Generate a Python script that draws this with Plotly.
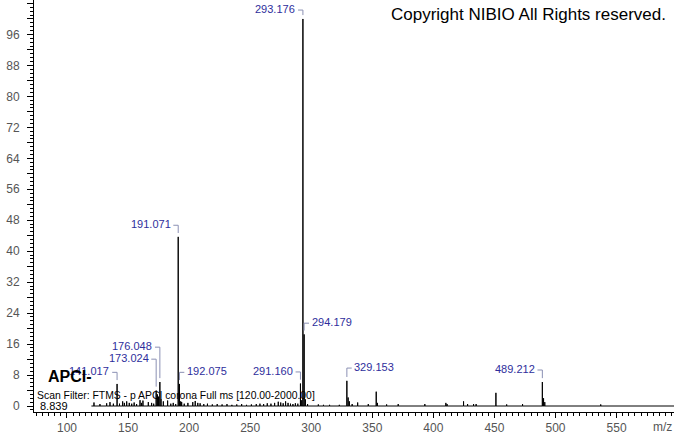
import plotly.graph_objects as go

# labelled peaks (m/z, relative intensity)
peak_mz = [141.017, 173.024, 176.048, 191.071, 192.075, 291.160, 293.176, 294.179, 329.153, 489.212]
peak_int = [5.7, 4.0, 6.2, 43.7, 5.7, 5.8, 100.0, 18.5, 6.5, 6.2]
peak_side = ["left", "left", "left", "left", "right", "left", "left", "right", "right", "left"]
# level (intensity units) where each label sits
label_level = [8.7, 12.1, 15.2, 46.7, 8.7, 8.8, 102.3, 21.4, 9.8, 9.3]

# small unlabelled peaks
minor_mz = [122.1, 127.0, 132.5, 135.2, 138.0, 143.0, 145.6, 147.0, 148.9, 151.0,
            153.0, 155.0, 157.0, 159.8, 161.0, 162.2, 166.6, 169.3, 171.0, 174.0,
            175.0, 177.0, 178.9, 182.4, 185.0, 187.0, 189.0, 193.1, 193.9, 196.0,
            199.0, 203.0, 205.0, 207.1, 209.0, 212.0, 215.0, 219.0, 223.0, 227.0,
            231.0, 235.0, 239.0, 243.0, 247.0, 251.0, 255.0, 258.0, 261.0, 264.0,
            267.0, 270.0, 273.0, 275.0, 277.0, 279.0, 281.0, 283.0, 285.0, 287.0,
            289.0, 292.2, 295.2, 297.0, 305.8, 310.0, 315.0, 323.0, 330.2, 331.2,
            333.5, 338.0, 346.7, 353.2, 354.2, 361.7, 371.2, 393.0, 410.2, 411.2,
            424.7, 428.0, 432.9, 435.0, 451.2, 460.0, 473.0, 490.2, 491.2, 537.0]
minor_int = [0.9, 0.5, 0.7, 1.0, 0.6, 0.6, 1.2, 0.8, 1.2, 0.8,
             0.6, 0.9, 0.5, 1.5, 0.8, 1.4, 1.0, 0.8, 0.6, 3.0,
             2.4, 1.8, 1.2, 1.4, 0.6, 0.8, 0.5, 1.2, 1.0, 0.6,
             0.8, 1.0, 1.3, 0.8, 0.7, 0.5, 0.6, 0.4, 0.5, 0.4,
             0.5, 0.3, 0.4, 0.5, 0.3, 0.4, 0.5, 0.6, 0.5, 0.7,
             0.6, 0.8, 1.1, 0.9, 0.7, 1.2, 0.8, 0.6, 0.5, 0.7,
             0.6, 1.5, 1.7, 0.5, 0.4, 0.3, 0.3, 0.3, 2.2, 1.2,
             0.5, 0.9, 0.5, 3.7, 0.8, 0.4, 0.5, 0.5, 0.8, 0.5,
             1.2, 0.5, 0.5, 0.5, 3.4, 0.4, 0.5, 2.0, 1.0, 0.4]

scan_start, scan_end = 120.0, 2000.0
y_ticks = list(range(0, 105, 4))
x_ticks = list(range(100, 551, 50))

label_color = "#2e2e9c"
bracket_color = "#8b90b4"
tick_color = "#555555"

peaks = sorted(zip(peak_mz + minor_mz, peak_int + minor_int))
xs, ys = [scan_start], [0]
for mz, inten in peaks:
    xs += [mz, mz, mz]
    ys += [0, inten, 0]
xs.append(scan_end)
ys.append(0)

fig = go.Figure()
fig.add_trace(go.Scatter(x=xs, y=ys, mode="lines",
                         line=dict(color="black", width=1), hoverinfo="skip"))

# bracket connectors from label to peak top
bx, by = [], []
for mz, inten, side, lvl in zip(peak_mz, peak_int, peak_side, label_level):
    dx = -4 if side == "left" else 4
    bx += [mz, mz, mz + dx, None]
    by += [inten + 1.0, lvl, lvl, None]
fig.add_trace(go.Scatter(x=bx, y=by, mode="lines",
                         line=dict(color=bracket_color, width=1), hoverinfo="skip"))

for mz, side, lvl in zip(peak_mz, peak_side, label_level):
    dx = -4.6 if side == "left" else 4.6
    fig.add_annotation(x=mz + dx, y=lvl, text=f"{mz:.3f}", showarrow=False,
                       xanchor="right" if side == "left" else "left", yanchor="middle",
                       yshift=1, font=dict(family="Arial, Liberation Sans", size=11, color=label_color))

fig.add_annotation(x=0.99, y=0.964, xref="paper", yref="paper", xanchor="right", yanchor="middle",
                   text="Copyright NIBIO All Rights reserved.", showarrow=False,
                   font=dict(family="Liberation Sans, Arial", size=17, color="black"))
fig.add_annotation(x=1.0, y=-0.036, xref="paper", yref="paper", xanchor="right", yanchor="middle",
                   text="m/z", showarrow=False,
                   font=dict(family="Arial, Liberation Sans", size=12, color=tick_color))
fig.add_annotation(x=0.018, y=0.086, xref="paper", yref="paper", xanchor="left", yanchor="middle",
                   text="<b>APCI-</b>", showarrow=False,
                   font=dict(family="Arial, Liberation Sans", size=16, color="black"))
fig.add_annotation(x=0.002, y=0.039, xref="paper", yref="paper", xanchor="left", yanchor="middle",
                   text="Scan Filter: FTMS - p APCI corona Full ms [120.00-2000.00]", showarrow=False,
                   font=dict(family="Arial, Liberation Sans", size=10.4, color="black"))
fig.add_annotation(x=0.006, y=0.015, xref="paper", yref="paper", xanchor="left", yanchor="middle",
                   text="8.839", showarrow=False,
                   font=dict(family="Arial, Liberation Sans", size=11, color="black"))

fig.update_layout(
    width=674, height=434,
    margin=dict(l=34, r=0, t=0, b=22),
    plot_bgcolor="white", paper_bgcolor="white",
    showlegend=False,
    xaxis=dict(range=[73, 597], showgrid=False, zeroline=False, automargin=False,
               showline=True, linecolor="black", linewidth=1,
               ticks="outside", ticklen=5, tickcolor="black",
               tickmode="array", tickvals=x_ticks,
               tickfont=dict(family="Arial, Liberation Sans", size=12, color=tick_color),
               minor=dict(tickmode="linear", tick0=0, dtick=5, ticks="outside",
                          ticklen=3, tickcolor="black")),
    yaxis=dict(range=[-1.55, 104.9], showgrid=False, zeroline=False, automargin=False,
               showline=True, linecolor="black", linewidth=1,
               ticks="outside", ticklen=6, tickcolor="black",
               tickmode="array", tickvals=y_ticks,
               ticktext=[str(v) if v % 8 == 0 else "" for v in y_ticks],
               ticklabelstandoff=5,
               tickfont=dict(family="Arial, Liberation Sans", size=12, color=tick_color),
               minor=dict(tickmode="linear", tick0=0, dtick=1, ticks="outside",
                          ticklen=3, tickcolor="black")),
)

# the page's default body margin would shift the 674x434 figure
fig.write_html("out.html", config={"displayModeBar": False},
               post_script="document.body.style.margin = '0';")
